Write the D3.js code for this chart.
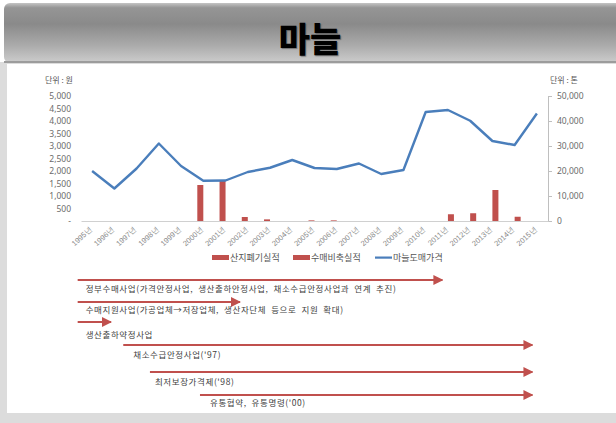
<!DOCTYPE html>
<html><head><meta charset="utf-8">
<script src="https://cdn.jsdelivr.net/npm/d3@7"></script>
<style>
html,body{margin:0;padding:0;background:#fff;}
svg{display:block;font-family:"Noto Sans CJK KR","Noto Sans",sans-serif;}
</style></head>
<body>
<svg id="c" width="616" height="423"></svg>
<script>
// ---- data ----
const title = "마늘";
const years = ["1995","1996","1997","1998","1999","2000","2001","2002","2003","2004","2005","2006","2007","2008","2009","2010","2011","2012","2013","2014","2015"];
const yearSuffix = "년";
const seriesNames = ["산지폐기실적","수매비축실적","마늘도매가격"];
// wholesale price (won, left axis)
const priceWon = [2000,1300,2100,3100,2200,1610,1620,1960,2130,2440,2120,2080,2300,1880,2040,4360,4440,4010,3200,3040,4300];
// on-site disposal (tonnes, right axis)
const disposalTon = [0,0,0,0,0,14400,16300,1600,650,0,250,250,0,0,0,0,0,0,0,0,0];
// purchase stockpiling (tonnes, right axis)
const stockTon = [0,0,0,0,0,0,0,0,0,0,0,0,0,0,0,0,2700,3100,12400,1700,0];
const leftTicks = [0,500,1000,1500,2000,2500,3000,3500,4000,4500,5000];
const rightTicks = [0,10000,20000,30000,40000,50000];
const leftUnit = "단위 : 원";
const rightUnit = "단위 : 톤";
// policy programs (start / end as year positions)
const programLabels = [
  "정부수매사업(가격안정사업,  생산출하안정사업,  채소수급안정사업과  연계  추진)",
  "수매지원사업(가공업체→저장업체,  생산자단체  등으로  지원  확대)",
  "생산출하약정사업",
  "채소수급안정사업('97)",
  "최저보장가격제('98)",
  "유통협약,  유통명령('00)"
];
const programStart = [1994.35,1994.35,1994.35,1996.4,1997.6,1999.85];
const programEnd   = [2010.75,2001.65,1995.85,2014.8,2014.8,2014.8];

// ---- drawing ----
const svg = d3.select("#c");
const defs = svg.append("defs");
const hg = defs.append("linearGradient").attr("id","hg").attr("x1",0).attr("y1",0).attr("x2",0).attr("y2",1);
[[0,"#c4c4c4"],[0.08,"#959595"],[0.35,"#8a8a8a"],[0.7,"#aaaaaa"],[1,"#cdcdcd"]].forEach(s=>hg.append("stop").attr("offset",s[0]).attr("stop-color",s[1]));
const mk = defs.append("marker").attr("id","arr").attr("viewBox","0 0 10 10").attr("refX",9).attr("refY",5)
  .attr("markerWidth",5).attr("markerHeight",5).attr("orient","auto").attr("markerUnits","strokeWidth");
mk.append("path").attr("d","M0,0 L10,5 L0,10 Z").attr("fill","#c0504d");

// frame
svg.append("rect").attr("x",0).attr("y",62).attr("width",616).attr("height",361).attr("fill","#dcdcdc");
svg.append("rect").attr("x",7).attr("y",64).attr("width",609).attr("height",349).attr("fill","#fff");
svg.append("rect").attr("x",4).attr("y",3).attr("width",640).attr("height",60).attr("rx",6).attr("fill","url(#hg)");
svg.append("rect").attr("x",4).attr("y",61).attr("width",612).attr("height",2).attr("fill","#9c9c9c");
svg.append("text").attr("x",310).attr("y",52).attr("text-anchor","middle")
  .attr("font-size",34).attr("font-weight",900).attr("fill","#000")
  .style("text-shadow","1px 1px 1px rgba(0,0,0,0.35)").text(title);

const x = d3.scaleBand().domain(years).range([81,548]).padding(0);
const bw = x.bandwidth();
const x1 = d3.scaleBand().domain(seriesNames.slice(0,2)).range([bw*0.23,bw*0.77]).padding(0);
const yL = d3.scaleLinear().domain([0,5000]).range([221,96]);
const yR = d3.scaleLinear().domain([0,50000]).range([221,96]);
const xYear = d3.scaleLinear().domain([1995,2015]).range([x("1995")+bw/2, x("2015")+bw/2]);

const tickCol = "#6b6b6b";
// left axis labels
const la = svg.append("g").attr("transform","translate(71,0)")
  .call(d3.axisLeft(yL).tickValues(leftTicks).tickSize(0).tickPadding(0)
  .tickFormat(d=> d===0 ? "-" : d3.format(",")(d)));
la.select(".domain").remove();
la.selectAll("text").attr("font-size",8.5).attr("fill",tickCol).attr("font-family","'Noto Sans','DejaVu Sans',sans-serif");
// right axis
const ra = svg.append("g").attr("transform","translate(548,0)")
  .call(d3.axisRight(yR).tickValues(rightTicks).tickSize(4).tickPadding(5).tickFormat(d3.format(",")));
ra.select(".domain").attr("stroke","#bfbfbf");
ra.selectAll("line").attr("stroke","#bfbfbf");
ra.selectAll("text").attr("font-size",8.5).attr("fill",tickCol).attr("font-family","'Noto Sans','DejaVu Sans',sans-serif");
// x axis
const xa = svg.append("g").attr("transform","translate(0,221)")
  .call(d3.axisBottom(x).tickSize(0).tickPadding(0).tickFormat(d=>d+yearSuffix));
xa.select(".domain").attr("stroke","#d0d0d0");
xa.selectAll("text").attr("font-size",7.5).attr("fill","#8a8a8a")
  .attr("text-anchor","end").attr("dy","0.35em")
  .attr("transform",`translate(-1,7) rotate(-42)`);
// units
svg.append("text").attr("x",45).attr("y",83).attr("font-size",8).attr("fill","#555").text(leftUnit);
svg.append("text").attr("x",550).attr("y",83).attr("font-size",8).attr("fill","#555").text(rightUnit);

// bars
const barCol = "#c0504d";
const barSeries = [disposalTon, stockTon];
barSeries.forEach((vals,si)=>{
  svg.append("g").selectAll("rect").data(vals.map((v,i)=>({y:years[i],v})).filter(d=>d.v>0)).join("rect")
    .attr("x",d=>x(d.y)+x1(seriesNames[si]))
    .attr("width",x1.bandwidth())
    .attr("y",d=>yR(d.v)).attr("height",d=>yR(0)-yR(d.v))
    .attr("fill",barCol);
});
// line
svg.append("path").datum(priceWon.map((v,i)=>({y:years[i],v})))
  .attr("fill","none").attr("stroke","#4a7ebb").attr("stroke-width",2.4).attr("stroke-linejoin","round")
  .attr("d",d3.line().x(d=>x(d.y)+bw/2).y(d=>yL(d.v)));

// legend
const lg = svg.append("g").attr("font-size",9).attr("fill","#555");
const legX = [212,293,375];
seriesNames.forEach((n,i)=>{
  if(i<2) lg.append("rect").attr("x",legX[i]).attr("y",255).attr("width",17).attr("height",5).attr("fill",barCol);
  else lg.append("rect").attr("x",legX[i]).attr("y",256.5).attr("width",17).attr("height",2.2).attr("fill","#4a7ebb");
  lg.append("text").attr("x",legX[i]+18).attr("y",261).text(n);
});

// programs
const pg = svg.append("g");
const arrowY = [280,302,322,345,372,395];
const textY = [292,313,338,358,385,406];
const textDx = [8,8,8,10,5,10];
programLabels.forEach((t,i)=>{
  const x0 = xYear(programStart[i]), x2 = xYear(programEnd[i]);
  pg.append("line").attr("x1",x0).attr("x2",x2).attr("y1",arrowY[i]).attr("y2",arrowY[i])
    .attr("stroke","#c0504d").attr("stroke-width",2).attr("marker-end","url(#arr)");
  pg.append("text").attr("x",x0+textDx[i]).attr("y",textY[i]).attr("font-size",8.5)
    .attr("letter-spacing",0.6)
    .attr("fill","#404040").style("white-space","pre").attr("xml:space","preserve").text(t);
});
</script>
</body></html>
